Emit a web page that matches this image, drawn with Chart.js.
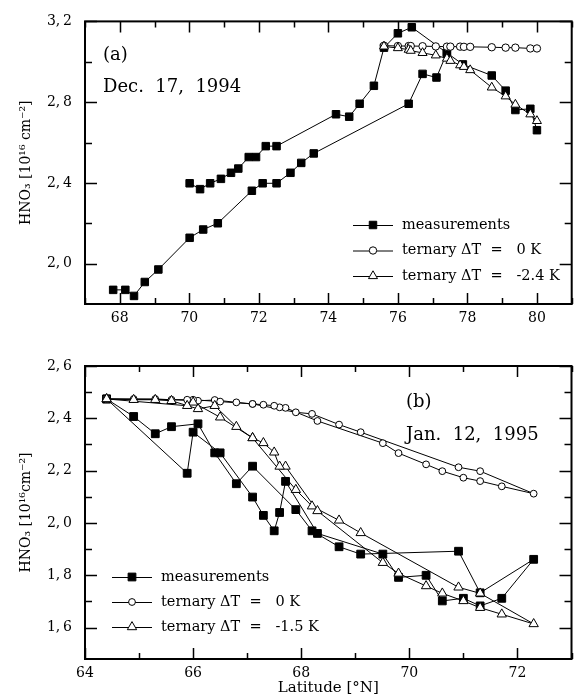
<!DOCTYPE html>
<html>
<head>
<meta charset="utf-8">
<script src="https://cdn.jsdelivr.net/npm/chart.js@4.4.1/dist/chart.umd.min.js"></script>
<style>
  html, body { margin: 0; padding: 0; background: #fff; overflow: hidden; }
  body { width: 575px; height: 700px; position: relative; }
  canvas { position: absolute; left: 0; }
  #chartA { top: 0; }
  #chartB { top: 330px; }
</style>
</head>
<body>
<canvas id="chartA" width="578" height="330"></canvas>
<canvas id="chartB" width="578" height="370"></canvas>
<script>
// ---- panel (a): Dec. 17, 1994 ----
// measurements, first leg
const latA_meas = [67.81, 68.16, 68.41, 68.72, 69.11, 70.01, 70.40, 70.82, 71.80, 72.11, 72.51, 72.91, 73.22, 73.58,
                   76.31, 76.71, 77.11, 77.41, 77.87, 78.70, 79.10, 79.38, 79.81, 80.00];
const hno3A_meas = [1.870, 1.870, 1.840, 1.909, 1.971, 2.128, 2.169, 2.200, 2.361, 2.398, 2.398, 2.450, 2.499, 2.546,
                    2.792, 2.940, 2.922, 3.044, 2.987, 2.932, 2.857, 2.761, 2.767, 2.661];
// measurements, second leg
const latA_meas2 = [70.01, 70.31, 70.60, 70.91, 71.20, 71.41, 71.71, 71.92, 72.20, 72.51, 74.22, 74.60, 74.90, 75.31,
                    75.60, 76.00, 76.40, 77.41];
const hno3A_meas2 = [2.398, 2.369, 2.398, 2.420, 2.450, 2.471, 2.528, 2.528, 2.582, 2.582, 2.740, 2.728, 2.792, 2.881,
                     3.070, 3.141, 3.171, 3.044];
// model runs
const latA_model = [75.60, 76.00, 76.31, 76.37, 76.71, 77.09, 77.41, 77.51, 77.79, 77.90, 78.08, 78.70, 79.10, 79.38, 79.81, 80.00];
const hno3A_dT0 = [3.080, 3.078, 3.078, 3.078, 3.077, 3.076, 3.075, 3.075, 3.075, 3.074, 3.074, 3.072, 3.070, 3.070, 3.066, 3.066];
const hno3A_dT24 = [3.076, 3.068, 3.060, 3.055, 3.044, 3.032, 3.016, 3.005, 2.983, 2.975, 2.959, 2.873, 2.829, 2.788, 2.740, 2.707];

const xTicksA = [68, 70, 72, 74, 76, 78, 80];
const xMinorA = [67, 69, 71, 73, 75, 77, 79, 81];
const yTicksA = [2.0, 2.4, 2.8, 3.2];
const yMinorA = [2.2, 2.6, 3.0];

// ---- panel (b): Jan. 12, 1995 (outbound then return) ----
const latB = [64.40, 64.90, 65.30, 65.60, 66.09, 66.40, 66.80, 67.10, 67.90, 68.20, 68.70, 69.10, 70.91, 71.31, 72.30,
              71.71, 71.31, 71.00, 70.61, 70.31, 69.80, 69.51, 68.30, 67.71, 67.60, 67.50, 67.30, 67.10, 66.50, 66.00, 65.89, 64.40];
const hno3B_meas = [2.474, 2.407, 2.341, 2.368, 2.379, 2.268, 2.150, 2.217, 2.051, 1.970, 1.909, 1.881, 1.892, 1.733, 1.861,
                    1.712, 1.683, 1.712, 1.702, 1.800, 1.792, 1.881, 1.960, 2.159, 2.040, 1.970, 2.029, 2.099, 2.268, 2.347, 2.190, 2.474];
const hno3B_dT0 = [2.474, 2.474, 2.474, 2.471, 2.467, 2.470, 2.461, 2.455, 2.423, 2.417, 2.376, 2.347, 2.213, 2.198, 2.112,
                   2.140, 2.160, 2.173, 2.198, 2.224, 2.267, 2.305, 2.390, 2.440, 2.442, 2.448, 2.452, 2.455, 2.464, 2.471, 2.471, 2.474];
const hno3B_dT15 = [2.474, 2.471, 2.471, 2.467, 2.436, 2.448, 2.368, 2.325, 2.127, 2.064, 2.010, 1.962, 1.754, 1.731, 1.614,
                    1.651, 1.676, 1.702, 1.731, 1.759, 1.807, 1.848, 2.046, 2.216, 2.216, 2.270, 2.306, 2.325, 2.404, 2.461, 2.448, 2.474];

const xTicksB = [64, 66, 68, 70, 72];
const xMinorB = [65, 67, 69, 71, 73];
const yTicksB = [1.6, 1.8, 2.0, 2.2, 2.4, 2.6];
const yMinorB = [1.7, 1.9, 2.1, 2.3, 2.5];

const FONT = "'DejaVu Serif', serif";

function pts(xs, ys) {
    return xs.map((x, i) => ({ x: x, y: ys[i] }));
}

function series(data, style, order, r) {
    const filled = style === 'rect';
    return {
        data: data,
        showLine: true,
        borderColor: '#000',
        borderWidth: 1,
        pointStyle: style,
        pointRadius: r,
        pointBorderWidth: 1,
        pointBorderColor: '#000',
        pointBackgroundColor: filled ? '#000' : '#fff',
        order: order
    };
}

function drawMarker(ctx, style, x, y, r) {
    ctx.beginPath();
    if (style === 'rect') {
        const s = r * Math.SQRT1_2;
        ctx.rect(x - s, y - s, 2 * s, 2 * s);
        ctx.fillStyle = '#000';
    } else if (style === 'circle') {
        ctx.arc(x, y, r, 0, Math.PI * 2);
        ctx.fillStyle = '#fff';
    } else {
        ctx.moveTo(x, y - r);
        ctx.lineTo(x + r * Math.sin(Math.PI * 2 / 3), y - r * Math.cos(Math.PI * 2 / 3));
        ctx.lineTo(x + r * Math.sin(Math.PI * 4 / 3), y - r * Math.cos(Math.PI * 4 / 3));
        ctx.closePath();
        ctx.fillStyle = '#fff';
    }
    ctx.fill();
    ctx.lineWidth = 1;
    ctx.stroke();
}

// frame, inward ticks, axis titles, legend and labels
const decorations = {
    id: 'decorations',
    afterDraw(chart, args, o) {
        const ctx = chart.ctx;
        const a = chart.chartArea;
        const xs = chart.scales.x, ys = chart.scales.y;
        ctx.save();
        ctx.strokeStyle = '#000';
        ctx.lineWidth = 2;
        ctx.strokeRect(a.left, a.top, a.right - a.left, a.bottom - a.top);

        ctx.lineWidth = 1.5;
        const tick = (vals, len, isX) => {
            vals.forEach(v => {
                ctx.beginPath();
                if (isX) {
                    const p = Math.round(xs.getPixelForValue(v)) + 0.5;
                    ctx.moveTo(p, a.bottom); ctx.lineTo(p, a.bottom - len);
                    ctx.moveTo(p, a.top); ctx.lineTo(p, a.top + len);
                } else {
                    const p = Math.round(ys.getPixelForValue(v)) + 0.5;
                    ctx.moveTo(a.left, p); ctx.lineTo(a.left + len, p);
                    ctx.moveTo(a.right, p); ctx.lineTo(a.right - len, p);
                }
                ctx.stroke();
            });
        };
        tick(o.xMajor, 11, true);
        tick(o.xMinor, 6, true);
        tick(o.yMajor, 12, false);
        tick(o.yMinor, 7, false);

        ctx.fillStyle = '#000';
        // y title
        ctx.save();
        ctx.translate(26, (a.top + a.bottom) / 2);
        ctx.rotate(-Math.PI / 2);
        ctx.textAlign = 'center';
        ctx.textBaseline = 'middle';
        ctx.font = '14px ' + FONT;
        ctx.fillText(o.yTitle, 0, 0);
        ctx.restore();

        // x title
        if (o.xTitle) {
            ctx.textAlign = 'center';
            ctx.textBaseline = 'middle';
            ctx.font = '15px ' + FONT;
            ctx.fillText(o.xTitle, (a.left + a.right) / 2, o.xTitleY);
        }

        // panel labels
        ctx.textAlign = 'left';
        ctx.textBaseline = 'middle';
        o.labels.forEach(l => {
            ctx.font = l.size + 'px ' + FONT;
            ctx.fillText(l.text, l.x, l.y);
        });

        // legend
        o.legend.items.forEach((it, i) => {
            const y = o.legend.y + i * o.legend.dy;
            const x0 = o.legend.x;
            ctx.lineWidth = 1;
            ctx.beginPath();
            ctx.moveTo(x0, y + 0.5); ctx.lineTo(x0 + 40, y + 0.5);
            ctx.stroke();
            drawMarker(ctx, it.style, x0 + 20, y, it.r);
            ctx.fillStyle = '#000';
            ctx.font = '14.5px ' + FONT;
            ctx.textAlign = 'left';
            ctx.textBaseline = 'middle';
            ctx.fillText(it.text, x0 + 49, y);
        });
        ctx.restore();
    }
};

function makeChart(id, cfg) {
    const canvasH = document.getElementById(id).height;
    return new Chart(document.getElementById(id), {
        type: 'scatter',
        data: { datasets: cfg.datasets },
        options: {
            responsive: false,
            animation: false,
            events: [],
            layout: { padding: { top: cfg.top, right: 1, left: 0, bottom: 0 } },
            plugins: {
                legend: { display: false },
                tooltip: { enabled: false },
                decorations: cfg.deco
            },
            scales: {
                x: {
                    type: 'linear',
                    min: cfg.xMin, max: cfg.xMax,
                    grid: { display: false, drawTicks: false },
                    border: { display: false },
                    afterBuildTicks: s => { s.ticks = cfg.xTicks.map(v => ({ value: v })); },
                    afterFit: s => { s.height = canvasH - cfg.bottom; },
                    ticks: {
                        autoSkip: false, maxRotation: 0, padding: 6,
                        color: '#000',
                        font: { family: FONT, size: 14 },
                        callback: v => String(v)
                    }
                },
                y: {
                    type: 'linear',
                    min: cfg.yMin, max: cfg.yMax,
                    grid: { display: false, drawTicks: false },
                    border: { display: false },
                    afterBuildTicks: s => { s.ticks = cfg.yTicks.map(v => ({ value: v })); },
                    afterFit: s => { s.width = 85; },
                    ticks: {
                        autoSkip: false, padding: 13,
                        color: '#000',
                        font: { family: FONT, size: 14 },
                        callback: v => v.toFixed(1).replace('.', ',\u2009')
                    }
                }
            }
        },
        plugins: [decorations]
    });
}

makeChart('chartA', {
    top: 16, bottom: 304,
    xMin: 67, xMax: 81, yMin: 1.8, yMax: 3.2,
    xTicks: xTicksA, yTicks: yTicksA,
    datasets: [
        series(pts(latA_meas, hno3A_meas), 'rect', 3, 5.3),
        series(pts(latA_meas2, hno3A_meas2), 'rect', 3, 5.3),
        series(pts(latA_model, hno3A_dT0), 'circle', 2, 3.7),
        series(pts(latA_model, hno3A_dT24), 'triangle', 1, 5.2)
    ],
    deco: {
        xMajor: xTicksA, xMinor: xMinorA, yMajor: yTicksA, yMinor: yMinorA,
        yTitle: 'HNO\u2083 [10\u00b9\u2076 cm\u207b\u00b2]',
        labels: [
            { text: '(a)', x: 103, y: 55, size: 18 },
            { text: 'Dec.  17,  1994', x: 103, y: 87, size: 18 }
        ],
        legend: {
            x: 353, y: 225, dy: 25.5,
            items: [
                { style: 'rect', r: 5.3, text: 'measurements' },
                { style: 'circle', r: 3.7, text: 'ternary \u0394T  =   0 K' },
                { style: 'triangle', r: 5.2, text: 'ternary \u0394T  =   -2.4 K' }
            ]
        }
    }
});

makeChart('chartB', {
    top: 36, bottom: 329,
    xMin: 64, xMax: 73, yMin: 1.48, yMax: 2.6,
    xTicks: xTicksB, yTicks: yTicksB,
    datasets: [
        series(pts(latB, hno3B_meas), 'rect', 3, 5.5),
        series(pts(latB, hno3B_dT0), 'circle', 2, 3.4),
        series(pts(latB, hno3B_dT15), 'triangle', 1, 5.4)
    ],
    deco: {
        xMajor: xTicksB, xMinor: xMinorB, yMajor: yTicksB, yMinor: yMinorB,
        yTitle: 'HNO\u2083 [10\u00b9\u2076cm\u207b\u00b2]',
        xTitle: 'Latitude [\u00b0N]', xTitleY: 358,
        labels: [
            { text: '(b)', x: 406, y: 72, size: 18 },
            { text: 'Jan.  12,  1995', x: 406, y: 105, size: 18 }
        ],
        legend: {
            x: 112, y: 247, dy: 25,
            items: [
                { style: 'rect', r: 5.5, text: 'measurements' },
                { style: 'circle', r: 3.4, text: 'ternary \u0394T  =   0 K' },
                { style: 'triangle', r: 5.4, text: 'ternary \u0394T  =   -1.5 K' }
            ]
        }
    }
});
</script>
</body>
</html>
